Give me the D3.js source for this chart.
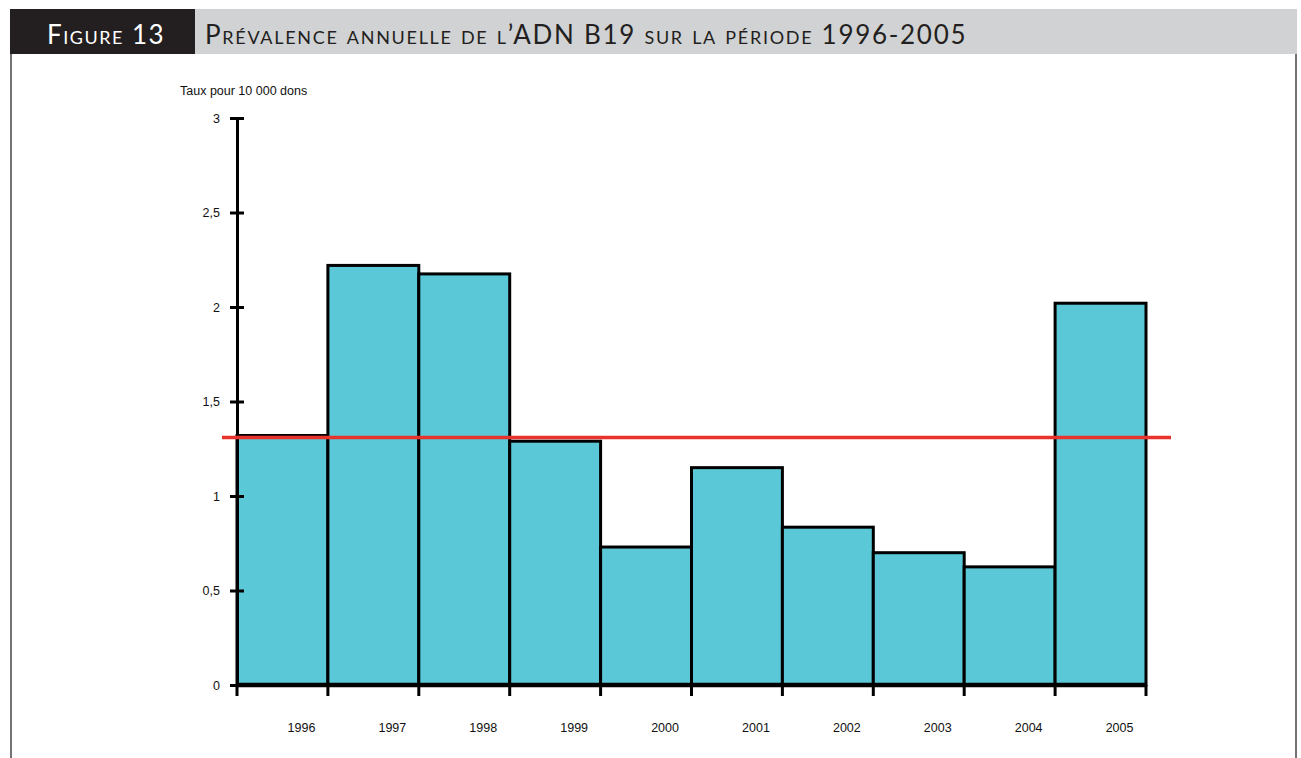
<!DOCTYPE html>
<html lang="fr">
<head>
  <meta charset="utf-8">
  <title>Figure 13</title>
  <script src="https://d3js.org/d3.v7.min.js"></script>
  <style>
    body { margin: 0; background: #fff; }
    svg { display: block; }
  </style>
</head>
<body>
<script>
// data
var years = ['1996', '1997', '1998', '1999', '2000', '2001', '2002', '2003', '2004', '2005'];
var taux = [1.32, 2.22, 2.175, 1.29, 0.73, 1.15, 0.835, 0.70, 0.625, 2.02];
var moyenne = 1.31;
var yTicks = [0, 0.5, 1, 1.5, 2, 2.5, 3];
var yTickLabels = ['0', '0,5', '1', '1,5', '2', '2,5', '3'];

var W = 1301, H = 758;
var svg = d3.select('body').append('svg')
  .attr('width', W)
  .attr('height', H);

// header band
svg.append('rect').attr('x', 10).attr('y', 9).attr('width', 1287).attr('height', 45).attr('fill', '#d1d2d4');
svg.append('rect').attr('x', 10).attr('y', 9).attr('width', 185).attr('height', 45).attr('fill', '#231f20');
svg.append('text')
  .attr('x', 47).attr('y', 44)
  .attr('fill', '#fff')
  .style('font-family', 'Lato, "Open Sans", sans-serif')
  .style('font-size', '26px')
  .style('font-variant', 'small-caps')
  .style('letter-spacing', '1.5px')
  .text('Figure 13');
svg.append('text')
  .attr('x', 205).attr('y', 44)
  .attr('fill', '#231f20')
  .style('font-family', 'Lato, "Open Sans", sans-serif')
  .style('font-size', '26px')
  .style('font-variant', 'small-caps')
  .style('letter-spacing', '1.7px')
  .text('Prévalence annuelle de l\u2019ADN B19 sur la période 1996-2005');

// frame sides
svg.append('line').attr('x1', 11).attr('y1', 54).attr('x2', 11).attr('y2', H).attr('stroke', '#444').attr('stroke-width', 1.5);
svg.append('line').attr('x1', 1296).attr('y1', 54).attr('x2', 1296).attr('y2', H).attr('stroke', '#444').attr('stroke-width', 1.5);

// scales
var x = d3.scaleBand().domain(years).range([237, 1146]).padding(0);
var y = d3.scaleLinear().domain([0, 3]).range([685, 118]);

// bars
svg.selectAll('rect.bar')
  .data(taux)
  .enter()
  .append('rect')
  .attr('class', 'bar')
  .attr('x', function(d, i) { return x(years[i]); })
  .attr('y', function(d) { return y(d); })
  .attr('width', x.bandwidth())
  .attr('height', function(d) { return y(0) - y(d); })
  .attr('fill', '#5bc8d8')
  .attr('stroke', '#000')
  .attr('stroke-width', 3);

// y axis
var yAxis = d3.axisLeft(y)
  .tickValues(yTicks)
  .tickFormat(function(d, i) { return yTickLabels[i]; })
  .tickSize(0)
  .tickPadding(17);
var gy = svg.append('g').attr('transform', 'translate(237,0)').call(yAxis);
gy.select('.domain').attr('stroke', '#000').attr('stroke-width', 3);
gy.selectAll('.tick line').attr('x1', -7).attr('x2', 7).attr('stroke', '#000').attr('stroke-width', 3);
gy.selectAll('.tick text')
  .style('font-family', '"Liberation Sans", Arial, sans-serif')
  .style('font-size', '12.5px')
  .attr('fill', '#111');

svg.append('text')
  .attr('x', 180).attr('y', 95)
  .style('font-family', '"Liberation Sans", Arial, sans-serif')
  .style('font-size', '12.5px')
  .attr('fill', '#111')
  .text('Taux pour 10 000 dons');

// x axis line and boundary ticks
var edges = years.map(function(d) { return x(d); }).concat([x(years[years.length - 1]) + x.bandwidth()]);
svg.append('line')
  .attr('x1', x.range()[0]).attr('x2', x.range()[1])
  .attr('y1', y(0)).attr('y2', y(0))
  .attr('stroke', '#000').attr('stroke-width', 4.5);
svg.selectAll('line.xtick')
  .data(edges)
  .enter()
  .append('line')
  .attr('class', 'xtick')
  .attr('x1', function(d) { return d; }).attr('x2', function(d) { return d; })
  .attr('y1', y(0)).attr('y2', y(0) + 11)
  .attr('stroke', '#000').attr('stroke-width', 3);

svg.selectAll('text.year')
  .data(years)
  .enter()
  .append('text')
  .attr('class', 'year')
  .attr('x', function(d) { return x(d) + x.bandwidth() / 2 + 19; })
  .attr('y', 732)
  .attr('text-anchor', 'middle')
  .style('font-family', '"Liberation Sans", Arial, sans-serif')
  .style('font-size', '12.5px')
  .attr('fill', '#111')
  .text(function(d) { return d; });

// average line
svg.append('line')
  .attr('x1', 222).attr('x2', 1171)
  .attr('y1', y(moyenne)).attr('y2', y(moyenne))
  .attr('stroke', '#e8332c').attr('stroke-width', 3.5);
</script>
</body>
</html>
